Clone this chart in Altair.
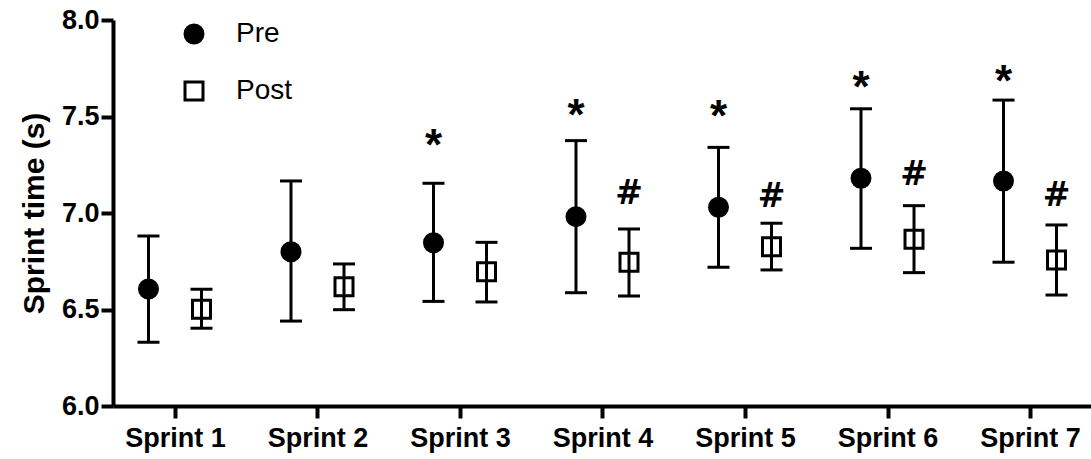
import altair as alt
import pandas as pd

sprints = [1, 2, 3, 4, 5, 6, 7]
pre_mean = [6.606, 6.799, 6.846, 6.981, 7.030, 7.180, 7.166]
pre_upper = [6.881, 7.166, 7.154, 7.375, 7.340, 7.540, 7.585]
pre_lower = [6.330, 6.440, 6.542, 6.587, 6.719, 6.817, 6.745]
post_mean = [6.501, 6.618, 6.696, 6.745, 6.825, 6.864, 6.756]
post_upper = [6.605, 6.736, 6.848, 6.917, 6.947, 7.038, 6.938]
post_lower = [6.403, 6.499, 6.539, 6.570, 6.705, 6.691, 6.575]

star_sprints = [3, 4, 5, 6, 7]
star_y = [7.399, 7.554, 7.549, 7.699, 7.731]
hash_sprints = [4, 5, 6, 7]
hash_y = [7.109, 7.093, 7.209, 7.098]

groups = ["Pre", "Post"]
OFF = 0.186

rows = []
for i, s in enumerate(sprints):
    rows.append({"sprint": s, "group": "Pre", "mean": pre_mean[i], "lo": pre_lower[i], "hi": pre_upper[i]})
    rows.append({"sprint": s, "group": "Post", "mean": post_mean[i], "lo": post_lower[i], "hi": post_upper[i]})
df = pd.DataFrame(rows)

ann = pd.DataFrame(
    [{"sprint": s, "group": "Pre", "y": y, "t": "*"} for s, y in zip(star_sprints, star_y)]
    + [{"sprint": s, "group": "Post", "y": y, "t": "#"} for s, y in zip(hash_sprints, hash_y)]
)

FONT = "Liberation Sans"
xscale = alt.Scale(domain=[0.565, 7.428], nice=False, zero=False)
yscale = alt.Scale(domain=[6.0, 8.0], nice=False, zero=False)

base = alt.Chart(df).transform_calculate(
    xpos=f"datum.sprint + (datum.group == 'Pre' ? -{OFF} : {OFF})"
)

xenc = alt.X(
    "xpos:Q",
    scale=xscale,
    axis=alt.Axis(values=sprints, labelExpr="'Sprint ' + datum.value", title=None,
                  labelPadding=7, labelFlush=False),
)

leg = alt.Legend(title=None, orient="none", legendX=67, legendY=0,
                 symbolSize=324, symbolStrokeWidth=3, symbolStrokeColor="black",
                 symbolOpacity=1, symbolFillColor="white",
                 labelFont=FONT, labelFontSize=28, labelFontWeight="normal",
                 labelColor="black", labelOffset=28, rowPadding=27, padding=0)

points = base.mark_point(stroke="black", strokeWidth=3, opacity=1, fillOpacity=1, size=324).encode(
    x=xenc,
    y=alt.Y("mean:Q", scale=yscale,
            axis=alt.Axis(values=[6.0, 6.5, 7.0, 7.5, 8.0], format=".1f", title="Sprint time (s)",
                          titleFont=FONT, titleFontSize=30, titleFontWeight="bold",
                          titleColor="black", titlePadding=12, labelPadding=2)),
    shape=alt.Shape("group:N", scale=alt.Scale(domain=groups, range=["circle", "square"]), legend=leg),
    fill=alt.Fill("group:N", scale=alt.Scale(domain=groups, range=["black", "white"]), legend=leg),
)

rules = base.mark_rule(color="black", strokeWidth=3).encode(
    x="xpos:Q", y="lo:Q", y2="hi:Q"
)
cap_hi = base.mark_tick(color="black", thickness=3, size=22, orient="horizontal", opacity=1).encode(
    x="xpos:Q", y="hi:Q"
)
cap_lo = base.mark_tick(color="black", thickness=3, size=22, orient="horizontal", opacity=1).encode(
    x="xpos:Q", y="lo:Q"
)

ann_base = alt.Chart(ann).transform_calculate(
    xpos=f"datum.sprint + (datum.group == 'Pre' ? -{OFF} : {OFF})"
)
stars = ann_base.transform_filter("datum.t == '*'").mark_text(
    font=FONT, fontSize=44, fontWeight="bold", color="black", baseline="alphabetic", dy=24
).encode(x="xpos:Q", y="y:Q", text="t:N")
hashes = ann_base.transform_filter("datum.t == '#'").mark_text(
    font="DejaVu Sans", fontSize=33, fontWeight="bold", color="black", baseline="alphabetic", dy=12
).encode(x="xpos:Q", y="y:Q", text="t:N")

chart = alt.layer(points, rules, cap_hi, cap_lo, stars, hashes).properties(
    width=978, height=386,
    padding={"left": 113, "top": 20, "right": 0, "bottom": 53},
    autosize=alt.AutoSizeParams(type="none"),
    background="white",
).configure_view(stroke=None).configure_axis(
    grid=False, domainColor="black", domainWidth=4, tickColor="black", tickWidth=4,
    tickSize=12, labelFont=FONT, labelFontSize=27, labelFontWeight="bold", labelColor="black",
)

chart.save("out.html", embed_options={"renderer": "svg", "actions": False})
